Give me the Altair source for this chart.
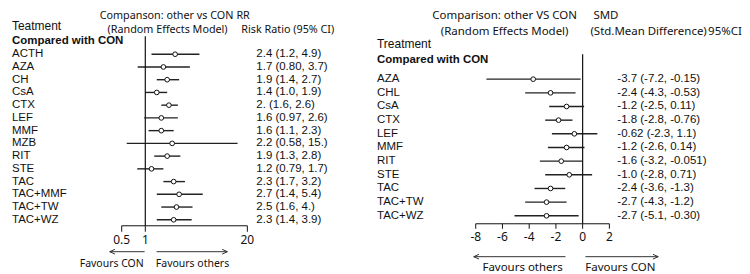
import altair as alt
import pandas as pd

# ---------- data: left panel (Risk Ratio) ----------
rr_treat = ["ACTH", "AZA", "CH", "CsA", "CTX", "LEF", "MMF", "MZB", "RIT", "STE",
            "TAC", "TAC+MMF", "TAC+TW", "TAC+WZ"]
rr_est = [2.4, 1.7, 1.9, 1.4, 2.0, 1.6, 1.6, 2.2, 1.9, 1.2, 2.3, 2.7, 2.5, 2.3]
rr_lo = [1.2, 0.80, 1.4, 1.0, 1.6, 0.97, 1.1, 0.58, 1.3, 0.79, 1.7, 1.4, 1.6, 1.4]
rr_hi = [4.9, 3.7, 2.7, 1.9, 2.6, 2.6, 2.3, 15.0, 2.8, 1.7, 3.2, 5.4, 4.0, 3.9]
rr_text = ["2.4 (1.2, 4.9)", "1.7 (0.80, 3.7)", "1.9 (1.4, 2.7)", "1.4 (1.0, 1.9)",
           " 2. (1.6, 2.6)", "1.6 (0.97, 2.6)", "1.6 (1.1, 2.3)", "2.2 (0.58, 15.)",
           "1.9 (1.3, 2.8)", "1.2 (0.79, 1.7)", "2.3 (1.7, 3.2)", "2.7 (1.4, 5.4)",
           "2.5 (1.6,  4.)", "2.3 (1.4, 3.9)"]
rr_ticks = [0.5, 1, 20]
rr_null = [1]

# ---------- data: right panel (SMD) ----------
smd_treat = ["AZA", "CHL", "CsA", "CTX", "LEF", "MMF", "RIT", "STE", "TAC", "TAC+TW", "TAC+WZ"]
smd_est = [-3.7, -2.4, -1.2, -1.8, -0.62, -1.2, -1.6, -1.0, -2.4, -2.7, -2.7]
smd_lo = [-7.2, -4.3, -2.5, -2.8, -2.3, -2.6, -3.2, -2.8, -3.6, -4.3, -5.1]
smd_hi = [-0.15, -0.53, 0.11, -0.76, 1.1, 0.14, -0.051, 0.71, -1.3, -1.2, -0.30]
smd_text = ["-3.7 (-7.2, -0.15)", "-2.4 (-4.3, -0.53)", "-1.2 (-2.5, 0.11)",
            "-1.8 (-2.8, -0.76)", "-0.62 (-2.3, 1.1)", "-1.2 (-2.6, 0.14)",
            "-1.6 (-3.2, -0.051)", "-1.0 (-2.8, 0.71)", "-2.4 (-3.6, -1.3)",
            "-2.7 (-4.3, -1.2)", "-2.7 (-5.1, -0.30)"]
smd_ticks = [-8, -6, -4, -2, 0, 2]
smd_null = [0]

ROWF = "Liberation Sans"
HDRF = "Noto Sans"
INK = "#111111"

rr_df = pd.DataFrame({"treat": rr_treat, "est": rr_est, "lo": rr_lo, "hi": rr_hi, "txt": rr_text})
smd_df = pd.DataFrame({"treat": smd_treat, "est": smd_est, "lo": smd_lo, "hi": smd_hi, "txt": smd_text})
one = pd.DataFrame({"a": [0]})


def text(s, x, y, align="left", baseline="middle", size=11.5, font=HDRF, weight="normal"):
    return alt.Chart(one).mark_text(text=s, align=align, baseline=baseline, fontSize=size,
                                     font=font, fontWeight=weight, color=INK).encode(
        x=alt.value(x), y=alt.value(y))


def arrow(x1, x2, y, head_left):
    line = alt.Chart(one).mark_rule(color="#333333", strokeWidth=1).encode(
        x=alt.value(x1), x2=alt.value(x2), y=alt.value(y))
    path = "M0,0L1,-0.45M0,0L1,0.45" if head_left else "M0,0L-1,-0.45M0,0L-1,0.45"
    head = alt.Chart(one).mark_point(shape=path, size=110, filled=False, color="#333333",
                                     strokeWidth=1, opacity=1).encode(
        x=alt.value(x1 if head_left else x2), y=alt.value(y))
    return [line, head]


def forest(df, treat, ticks, null, xscale, yrange, lab_x, val_x, vline_y, axis_y, tick_lab_y,
           tick_size):
    ys = alt.Y("treat:N", scale=alt.Scale(type="point", domain=treat, range=yrange, padding=0),
               axis=None)
    base = alt.Chart(df)
    ci = base.mark_rule(color="#222222", strokeWidth=1.4).encode(
        x=alt.X("lo:Q", scale=xscale, axis=None), x2="hi:Q", y=ys)
    pt = base.mark_point(shape="circle", size=22, filled=True, fill="white", stroke="#111111",
                         strokeWidth=1, opacity=1).encode(
        x=alt.X("est:Q", scale=xscale, axis=None), y=ys)
    lab = base.mark_text(align="left", font=ROWF, fontSize=11.5, color=INK).encode(
        x=alt.value(lab_x), y=ys, text="treat:N")
    val = base.mark_text(align="left", font=ROWF, fontSize=11.5, color=INK).encode(
        x=alt.value(val_x), y=ys, text="txt:N")
    vline = alt.Chart(pd.DataFrame({"n": null})).mark_rule(color=INK, strokeWidth=1.2).encode(
        x=alt.X("n:Q", scale=xscale, axis=None), y=alt.value(vline_y[0]), y2=alt.value(vline_y[1]))
    tdf = pd.DataFrame({"v": ticks, "lab": [str(t) for t in ticks]})
    axline = alt.Chart(pd.DataFrame({"a": [ticks[0]], "b": [ticks[-1]]})).mark_rule(
        color=INK, strokeWidth=1).encode(
        x=alt.X("a:Q", scale=xscale, axis=None), x2="b:Q", y=alt.value(axis_y))
    tk = alt.Chart(tdf).mark_rule(color=INK, strokeWidth=1).encode(
        x=alt.X("v:Q", scale=xscale, axis=None), y=alt.value(axis_y), y2=alt.value(axis_y + tick_size))
    tl = alt.Chart(tdf).mark_text(font=HDRF, fontSize=12, color=INK, baseline="middle").encode(
        x=alt.X("v:Q", scale=xscale, axis=None), y=alt.value(tick_lab_y), text="lab:N")
    return [ci, pt, lab, val, vline, axline, tk, tl]


# ---------- left panel (page x = 8 + plot x) ----------
lsc = alt.Scale(type="log", domain=[0.5, 20], range=[114, 240])
left_layers = forest(rr_df, rr_treat, rr_ticks, rr_null, lsc, [46, 212], 4, 249,
                     (28, 218), 218, 232, 6)
left_layers += [
    text("Companson: other vs CON", 159, 2, align="center", baseline="top", size=10.8),
    text("(Random Effects Model)", 160, 16, align="center", baseline="top", size=10.8),
    text("RR", 229, 2, baseline="top", size=10.8),
    text("Risk Ratio (95% CI)", 234, 16, baseline="top", size=10.8),
    text("Teatment", 4, 18, font=ROWF, size=12),
    text("Compared with CON", 4, 33, font=ROWF, size=11.5, weight="bold"),
]
left_layers += arrow(102, 137, 244, True) + arrow(149, 220, 244, False)
left_layers += [
    text("Favours CON", 104, 256, align="center", size=10.5),
    text("Favours others", 185, 256, align="center", size=10.5),
]
left = alt.layer(*left_layers).properties(width=366, height=266)

# ---------- right panel (page x = 374 + plot x) ----------
rsc = alt.Scale(domain=[-8, 2], range=[103, 237])
right_layers = forest(smd_df, smd_treat, smd_ticks, smd_null, rsc, [71, 208], 4, 245,
                      (46, 216), 216, 229, 5)
right_layers += [
    text("Comparison: other VS CON", 132, 2, align="center", baseline="top", size=11.5),
    text("(Random Effects Model)", 132, 18, align="center", baseline="top", size=11.5),
    text("SMD", 221, 2, baseline="top", size=11.5),
    text("(Std.Mean Difference)", 218, 18, baseline="top", size=11.5),
    text("95%CI", 336, 18, baseline="top", size=11.5),
    text("Treatment", 4, 36, font=ROWF, size=12),
    text("Compared with CON", 4, 52, font=ROWF, size=11.5, weight="bold"),
]
right_layers += arrow(101, 193, 249, True) + arrow(213, 286, 249, False)
right_layers += [
    text("Favours others", 150, 260, align="center", size=11.5),
    text("Favours CON", 248, 260, align="center", size=11.5),
]
right = alt.layer(*right_layers).properties(width=368, height=266)

chart = alt.hconcat(left, right, spacing=0).properties(padding=0).configure_view(stroke=None)

chart.save("out.html", embed_options={"renderer": "svg", "actions": False})
